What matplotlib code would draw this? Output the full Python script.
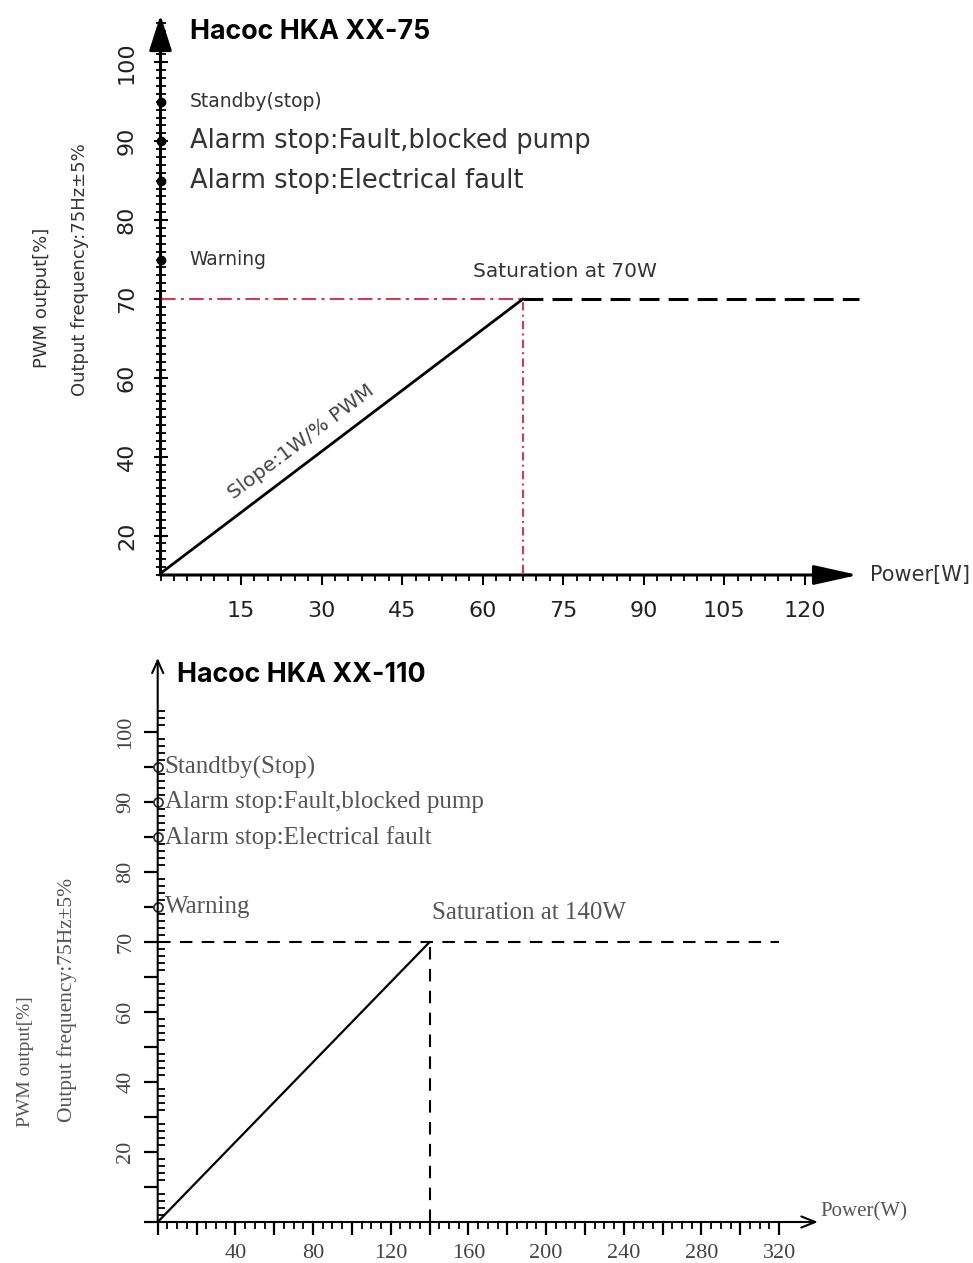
import numpy as np
import matplotlib.pyplot as plt

# ---- data ----
# Hacoc HKA XX-75
power75 = [0, 67.5]
pwm75 = [10.4, 70]
sat75 = 67.5
flat75_end = 130
xticks75 = [15, 30, 45, 60, 75, 90, 105, 120]

# Hacoc HKA XX-110
power110 = [0, 140]
pwm110 = [0, 70]
sat110 = 140
flat110_end = 320
xticks110 = [40, 80, 120, 160, 200, 240, 280, 320]

sat_level = 70
yticks = [100, 90, 80, 70, 60, 40, 20]
levels = [95, 90, 85, 75]
labels75 = ['Standby(stop)', 'Alarm stop:Fault,blocked pump',
            'Alarm stop:Electrical fault', 'Warning']
sizes75 = [13.5, 18.5, 18.5, 13.5]
labels110 = ['Standtby(Stop)', 'Alarm stop:Fault,blocked pump',
             'Alarm stop:Electrical fault', 'Warning']


# the y axis is squeezed 2:1 below 60 %
def fwd(y):
    y = np.asarray(y, dtype=float)
    return np.where(y >= 60, y, 30 + y / 2)


def inv(p):
    p = np.asarray(p, dtype=float)
    return np.where(p >= 60, p, 2 * (p - 30))


W, H = 973, 1263


def box(l, t, r, b):
    return [l / W, 1 - b / H, (r - l) / W, (b - t) / H]


sans = ['DejaVu Sans']
serif = ['Liberation Serif', 'DejaVu Serif']

fig = plt.figure(figsize=(W / 100, H / 100), dpi=100)

# ================= top chart =================
ax = fig.add_axes(box(160.5, 15, 858, 575))
ax.set_yscale('function', functions=(fwd, inv))
ax.set_xlim(0, 129.9)
ax.set_ylim(10.4, 106)
for s in ax.spines.values():
    s.set_visible(False)

red = '#d23a55'
ax.plot([0, sat75], [sat_level, sat_level], color=red, lw=1.5,
        linestyle=(0, (7, 2.5, 1.5, 2.5)), clip_on=False)
ax.plot([sat75, sat75], [10.4, sat_level], color=red, lw=1.5,
        linestyle=(0, (4, 2, 1, 2)), clip_on=False)
ax.plot([sat75, flat75_end], [sat_level, sat_level], color='black', lw=2.2,
        linestyle=(0, (6.5, 3)), clip_on=False)
ax.plot(power75, pwm75, color='black', lw=2, solid_capstyle='round')

ax.plot([0] * len(levels), levels, 'o', color='black', ms=6, clip_on=False, zorder=5)
for lev, lab, fs in zip(levels, labels75, sizes75):
    ax.annotate(lab, xy=(0, lev), xytext=(21, 0), textcoords='offset points',
                va='center', ha='left', fontsize=fs, color='#333333', family=sans)

ax.annotate('Saturation at 70W', xy=(sat75, sat_level), xytext=(-36, 20),
            textcoords='offset points', va='center', ha='left', fontsize=14.5,
            color='#333333', family=sans)
ax.text(26.2, 43.8, 'Slope:1W/% PWM', rotation=37, ha='center', va='center',
        fontsize=14.5, color='#444444', family=sans)

# axes with arrows
ax.annotate('', xy=(0, 1), xytext=(0, 0), xycoords='axes fraction',
            arrowprops=dict(arrowstyle='-|>,head_length=1.1,head_width=0.35',
                            mutation_scale=20, lw=2.2, color='black',
                            shrinkA=0, shrinkB=0), zorder=6)
ax.annotate('', xy=(1, 0), xytext=(0, 0), xycoords='axes fraction',
            arrowprops=dict(arrowstyle='-|>,head_length=1.35,head_width=0.3',
                            mutation_scale=20, lw=2.2, color='black',
                            shrinkA=0, shrinkB=0), zorder=6)

ax.set_xticks(xticks75)
ax.set_xticks(np.arange(0, 121, 2.5), minor=True)
ax.set_yticks(yticks, [str(v) for v in yticks])
ax.set_yticks(list(np.arange(10, 60, 2)) + list(range(60, 106)), minor=True)
ax.tick_params(axis='x', which='major', direction='out', length=7, width=1.5,
               pad=12, labelsize=16, labelcolor='#222222')
ax.tick_params(axis='x', which='minor', direction='out', length=4, width=1.3)
ax.tick_params(axis='y', which='major', direction='inout', length=10, width=1.5,
               pad=12, labelsize=16, labelcolor='#222222', labelrotation=90)
ax.tick_params(axis='y', which='minor', direction='inout', length=7, width=1.3)
for t in ax.get_xticklabels() + ax.get_yticklabels():
    t.set_family(sans)
for t in ax.get_yticklabels():
    t.set_va('center')

fig.text(190 / W, 1 - 32 / H, 'Hacoc HKA XX-75', fontsize=19.3, fontweight='bold',
         family=['Inter', 'DejaVu Sans'], va='center', ha='left')
fig.text(870 / W, 1 - 575 / H, 'Power[W]', fontsize=15, color='#333333',
         family=sans, va='center', ha='left')
fig.text(42 / W, 1 - 298 / H, 'PWM output[%]', rotation=90, fontsize=13,
         color='#333333', family=sans, va='center', ha='center')
fig.text(80 / W, 1 - 270 / H, 'Output frequency:75Hz±5%', rotation=90, fontsize=13,
         color='#333333', family=sans, va='center', ha='center')

# ================= bottom chart =================
bx = fig.add_axes(box(157.7, 658, 818, 1222))
bx.set_yscale('function', functions=(fwd, inv))
bx.set_xlim(0, 340)
bx.set_ylim(0, 110.6)
for s in bx.spines.values():
    s.set_visible(False)

bx.plot([0, flat110_end], [sat_level, sat_level], color='black', lw=1.5,
        linestyle=(0, (6, 4.5)), clip_on=False)
bx.plot([sat110, sat110], [0, sat_level], color='black', lw=1.5,
        linestyle=(0, (6, 4.5)))
bx.plot(power110, pwm110, color='black', lw=1.6)

bx.plot([0] * len(levels), levels, 'o', mfc='white', mec='#333333', mew=1.3,
        ms=6.5, clip_on=False, zorder=5)
for lev, lab in zip(levels, labels110):
    bx.annotate(lab, xy=(0, lev), xytext=(5, 0), textcoords='offset points',
                va='center', ha='left', fontsize=18, color='#555555', family=serif)

bx.annotate('Saturation at 140W', xy=(sat110, sat_level), xytext=(2, 21),
            textcoords='offset points', va='center', ha='left', fontsize=18,
            color='#555555', family=serif)

bx.annotate('', xy=(0, 1), xytext=(0, 0), xycoords='axes fraction',
            arrowprops=dict(arrowstyle='->,head_length=0.45,head_width=0.2',
                            mutation_scale=20, lw=1.5, color='black',
                            shrinkA=0, shrinkB=0), zorder=6)
bx.annotate('', xy=(1, 0), xytext=(0, 0), xycoords='axes fraction',
            arrowprops=dict(arrowstyle='->,head_length=0.5,head_width=0.2',
                            mutation_scale=20, lw=1.5, color='black',
                            shrinkA=0, shrinkB=0), zorder=6)

xmaj = list(range(0, 321, 20))
bx.set_xticks(xmaj, [str(v) if v in xticks110 else '' for v in xmaj])
bx.set_xticks(np.arange(0, 321, 5), minor=True)
ymaj = [0, 10, 20, 30, 40, 50, 60, 65, 70, 75, 80, 85, 90, 95, 100]
bx.set_yticks(ymaj, [str(v) if v in yticks else '' for v in ymaj])
bx.set_yticks(list(np.arange(0, 60, 2)) + list(range(60, 104)), minor=True)
bx.tick_params(axis='x', which='major', direction='out', length=9, width=1.6,
               pad=7, labelsize=16, labelcolor='#444444')
bx.tick_params(axis='x', which='minor', direction='out', length=5, width=1.3)
bx.tick_params(axis='y', which='major', direction='out', length=10, width=1.6,
               pad=6, labelsize=16, labelcolor='#444444', labelrotation=90)
bx.tick_params(axis='y', which='minor', direction='in', length=5, width=1.3)
for t in bx.get_xticklabels() + bx.get_yticklabels():
    t.set_family(serif)
for t in bx.get_yticklabels():
    t.set_va('center')

fig.text(177 / W, 1 - 675 / H, 'Hacoc HKA XX-110', fontsize=19.3, fontweight='bold',
         family=['Inter', 'DejaVu Sans'], va='center', ha='left')
fig.text(820 / W, 1 - 1212 / H, 'Power(W)', fontsize=15, color='#555555',
         family=serif, va='center', ha='left')
fig.text(25 / W, 1 - 1062 / H, 'PWM output[%]', rotation=90, fontsize=14,
         color='#555555', family=serif, va='center', ha='center')
fig.text(67 / W, 1 - 1000 / H, 'Output frequency:75Hz±5%', rotation=90, fontsize=15.5,
         color='#555555', family=serif, va='center', ha='center')

fig.savefig('out.png', dpi=100)
